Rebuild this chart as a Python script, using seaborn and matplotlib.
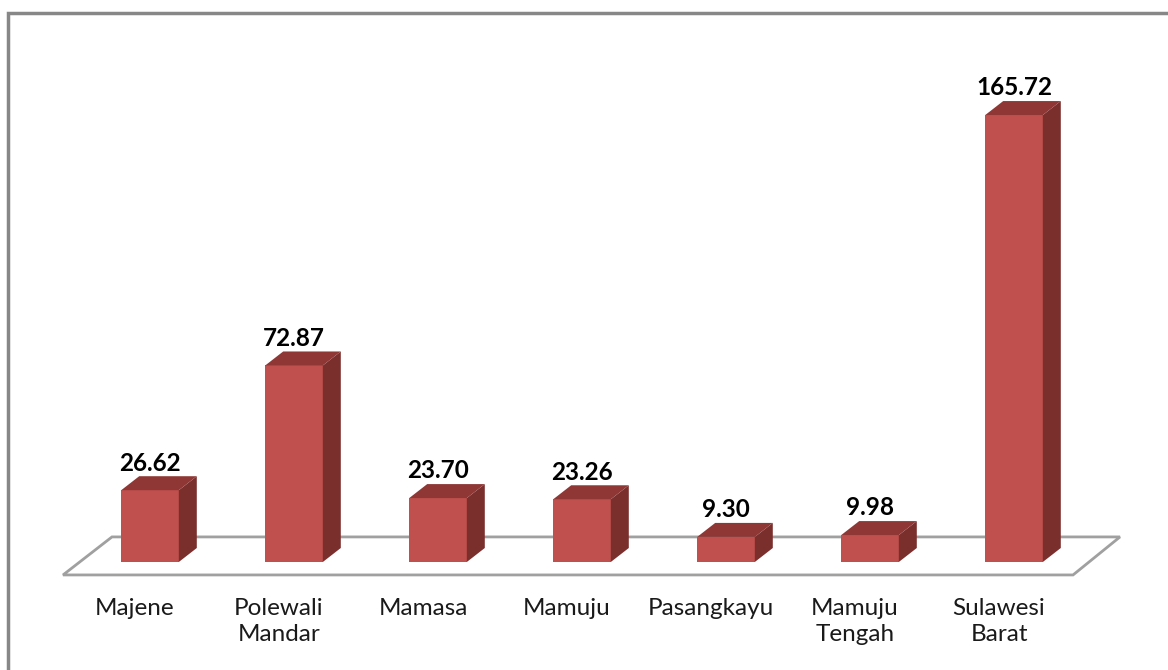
import numpy as np
import pandas as pd
import matplotlib
matplotlib.use("Agg")
import matplotlib.pyplot as plt
from matplotlib.patches import Polygon, Rectangle
import seaborn as sns

regions = ["Majene", "Polewali\nMandar", "Mamasa", "Mamuju", "Pasangkayu",
           "Mamuju\nTengah", "Sulawesi\nBarat"]
values = [26.62, 72.87, 23.70, 23.26, 9.30, 9.98, 165.72]

front = "#C0504D"
side = "#7B2F2D"
top = "#8E3735"

sns.set_theme(style="white")
plt.rcParams["font.family"] = ["Lato", "DejaVu Sans"]

df = pd.DataFrame({"region": regions, "value": values})

fig = plt.figure(figsize=(11.68, 6.70), dpi=100)
ax = fig.add_axes([0, 0, 1, 1])
sns.barplot(data=df, x="region", y="value", color=front, width=0.4,
            saturation=1, ax=ax, zorder=3, edgecolor="none", linewidth=0)

# scale: 144 px per category, ~2.7 px per unit
ax.set_xlim(-150 / 144, (1168 - 150) / 144)
ppu = 2.697
ax.set_ylim(-108 / ppu, (670 - 108) / ppu)
ax.axis("off")

dx = 18 / 144
dy = 14 / ppu
n = len(values)

# floor
floor = Polygon([(-0.604, -4.8), (-0.604 + 0.34, 9.3),
                 (n - 0.264, 9.3), (n - 0.59, -4.8)],
                closed=True, facecolor="white", edgecolor="#A0A0A0",
                lw=2, zorder=1)
ax.add_patch(floor)

for i, p in enumerate(ax.patches[:n]):
    x0 = p.get_x()
    x1 = x0 + p.get_width()
    h = p.get_height()
    ax.add_patch(Polygon([(x1, 0), (x1 + dx, dy), (x1 + dx, h + dy), (x1, h)],
                         closed=True, facecolor=side, edgecolor="none", zorder=3))
    ax.add_patch(Polygon([(x0, h), (x1, h), (x1 + dx, h + dy), (x0 + dx, h + dy)],
                         closed=True, facecolor=top, edgecolor="none", zorder=3))
    ax.text((x0 + x1) / 2, h + dy + 0.6, f"{values[i]:.2f}",
            ha="center", va="bottom", fontsize=17.5, fontweight="bold",
            color="black", zorder=4)

for i, lab in enumerate(regions):
    ax.text(i - 0.104, 0.107, lab, transform=ax.get_xaxis_transform(),
            ha="center", va="top", fontsize=17.5, color="#1a1a1a",
            linespacing=1.3)

# outer frame
fig.patches.append(Rectangle((8 / 1168, -0.1), 1.2, 0.1 + (670 - 13) / 670,
                             transform=fig.transFigure, fill=False,
                             edgecolor="#878787", lw=2.5))

fig.savefig("out.png", dpi=100)
